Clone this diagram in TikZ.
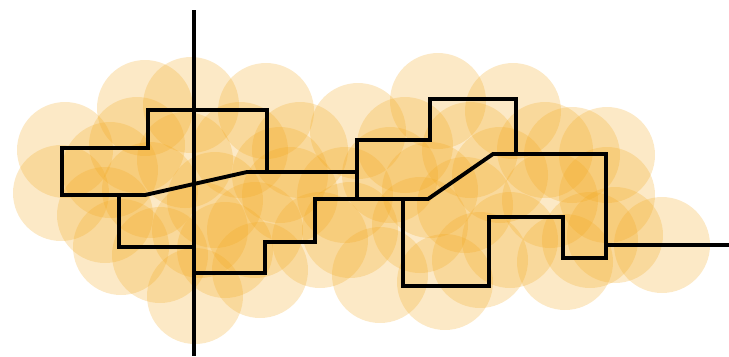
\documentclass[tikz,border=0pt]{standalone}
\begin{document}
\begin{tikzpicture}[x=0.02cm,y=-0.02cm, wire/.style={line width=2.2pt, black}]
  \definecolor{cloudOrange}{HTML}{F2A81D}
  \useasboundingbox (0,0) rectangle (729,356);
  % cloud of translucent disks
  \foreach \cx/\cy in {65/150, 61/193, 137/145, 145/108, 191/105, 105/215, 121/247, 160/255,
      195/296, 150/190, 185/160, 215/200, 240/150, 266/111, 255/230, 260/270, 225/250,
      290/195, 300/150, 320/240, 358/131, 345/195, 380/275, 390/175, 405/145, 438/101,
      513/111, 470/150, 420/225, 445/282, 465/205, 500/175, 510/240, 550/200, 565/262,
      545/150, 572/155, 607/155, 607/195, 615/235, 662/245, 590/240, 480/260, 350/230,
      110/170, 200/230, 280/175, 430/190}
    \fill[cloudOrange, fill opacity=0.25] (\cx,\cy) circle[radius=0.96cm];
  % axis
  \draw[wire] (194,10) -- (194,356);
  % left part
  \draw[wire] (194,110) -- (148,110) -- (148,148) -- (62,148) -- (62,195) -- (145,195) -- (247,172) -- (357,172);
  \draw[wire] (194,110) -- (267,110) -- (267,172);
  \draw[wire] (119,195) -- (119,247) -- (194,247);
  % right part
  \draw[wire] (194,273) -- (265,273) -- (265,242) -- (315,242) -- (315,199) -- (428,199) -- (493,154)
    -- (606,154) -- (606,258) -- (563,258) -- (563,217) -- (489,217) -- (489,286) -- (403,286) -- (403,199);
  \draw[wire] (357,199) -- (357,140) -- (430,140) -- (430,99) -- (516,99) -- (516,154);
  \draw[wire] (606,245) -- (729,245);
\end{tikzpicture}
\end{document}
